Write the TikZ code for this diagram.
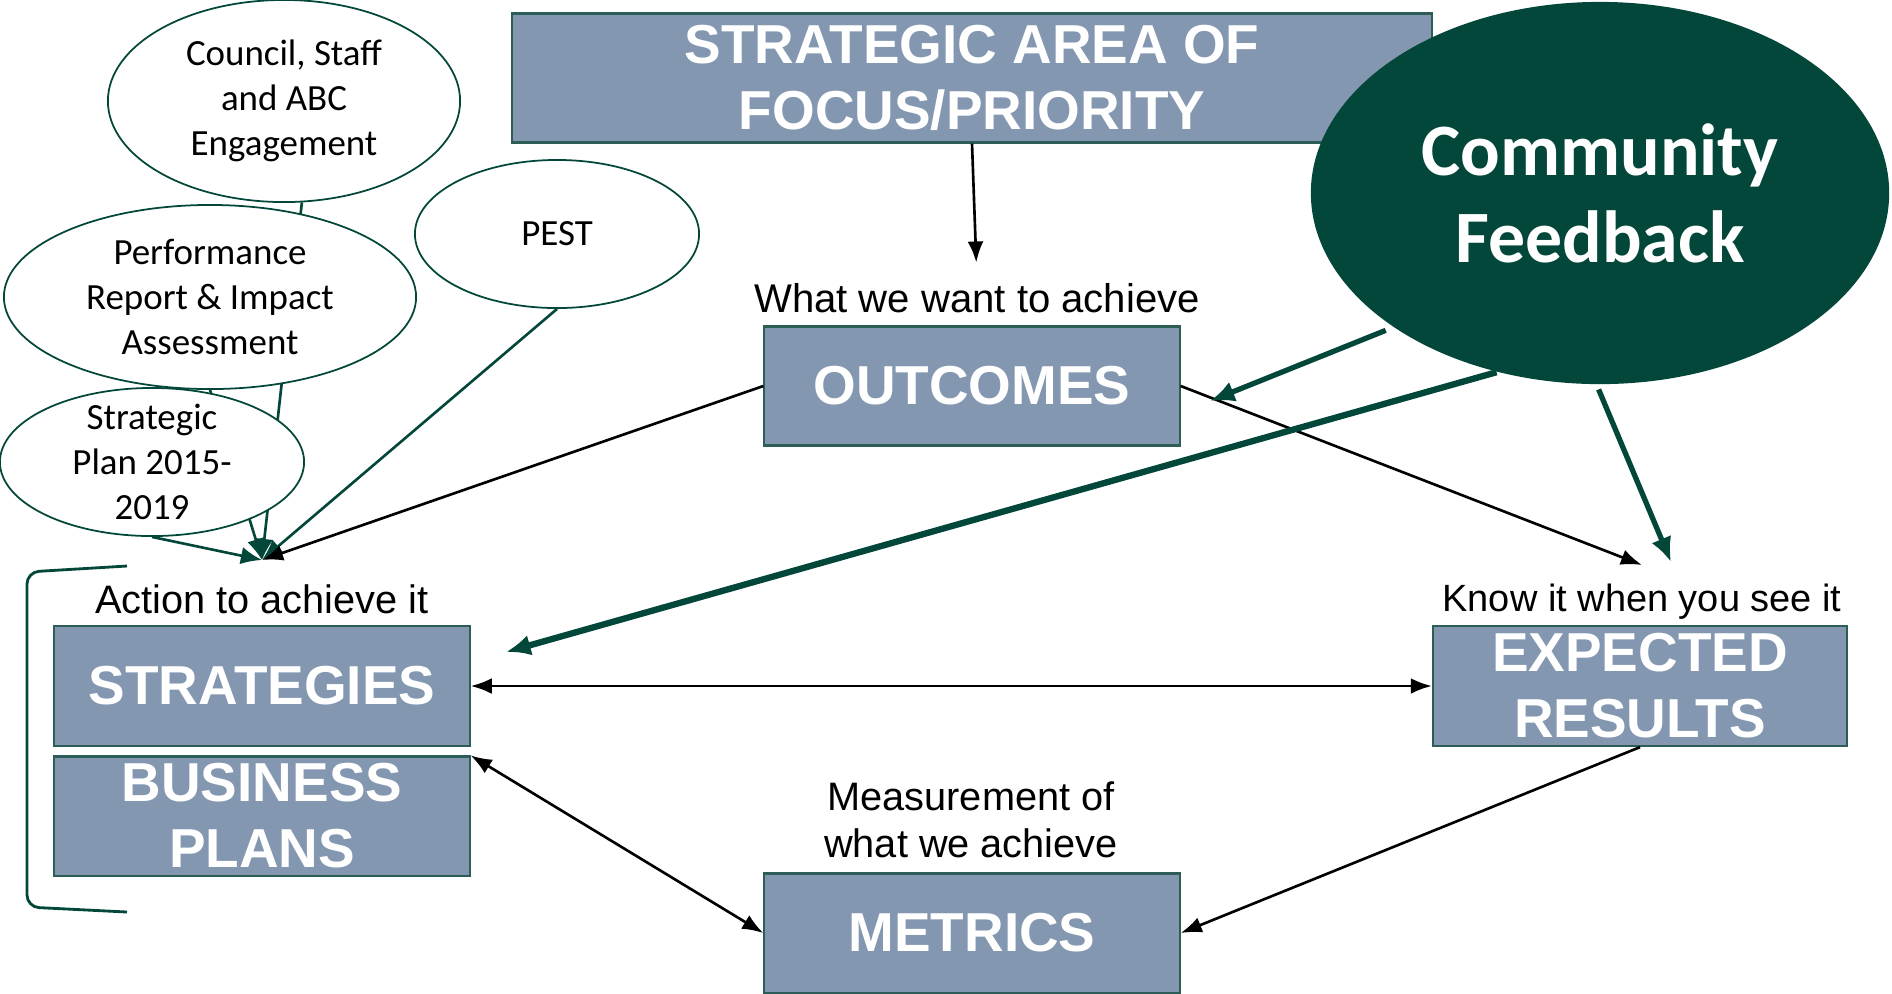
\documentclass[tikz,border=0pt]{standalone}
\usepackage{fontspec}
\setmainfont{Liberation Sans}
\newfontfamily\calibfont{Carlito}
\usetikzlibrary{shapes.geometric,arrows.meta,backgrounds}
\definecolor{boxblue}{HTML}{8497B0}
\definecolor{boxline}{HTML}{2C5E57}
\definecolor{darkgreen}{HTML}{03473A}
\tikzstyle{arrow} = [->,>={Latex[length=6pt,width=4.5pt]},line width=0.75pt]
\tikzstyle{feed} = [->,>={Latex[length=7pt,width=6pt]},line width=1.5pt,draw=darkgreen]
\tikzstyle{input} = [->,>={Latex[length=6pt,width=5pt]},line width=0.75pt,draw=darkgreen]
\tikzstyle{box} = [draw=boxline,line width=0.6pt,fill=boxblue,text=white,inner sep=0,align=center,font={\fontsize{15.6}{18.8}\selectfont\bfseries}]
\tikzstyle{bubble} = [ellipse,draw=darkgreen,line width=0.5pt,fill=white,inner xsep=0,inner ysep=-0.15cm,align=center,font={\calibfont\fontsize{10.5}{12.7}\selectfont}]
\tikzstyle{caption} = [inner sep=0,align=center]

\begin{document}
\begin{tikzpicture}[x=0.01cm,y=-0.01cm]
      \useasboundingbox (0,0) rectangle (1892,993);

      \node[box,minimum width=9.19cm,minimum height=1.29cm] (area) at (972,78) {STRATEGIC AREA OF\\FOCUS/PRIORITY};
      \node[box,minimum width=4.15cm,minimum height=1.19cm] (outcomes) at (972,386) {OUTCOMES};
      \node[box,minimum width=4.15cm,minimum height=1.20cm] (strategies) at (262,686) {STRATEGIES};
      \node[box,minimum width=4.15cm,minimum height=1.19cm] (business) at (262,816) {BUSINESS\\PLANS};
      \node[box,minimum width=4.14cm,minimum height=1.20cm] (results) at (1640,686) {EXPECTED\\RESULTS};
      \node[box,minimum width=4.15cm,minimum height=1.19cm] (metrics) at (972,933) {METRICS};

      \node[caption,font={\fontsize{11.4}{13.6}\selectfont}] (want) at (977,298) {What we want to achieve};
      \node[caption,font={\fontsize{11.3}{13.5}\selectfont}] (action) at (262,599) {Action to achieve it};
      \node[caption,font={\fontsize{10.8}{13}\selectfont}] (know) at (1642,602) {Know it when you see it};
      \node[caption,font={\fontsize{11.3}{13.4}\selectfont}] (measure) at (971,820) {Measurement of\\what we achieve};

      \node[bubble,minimum width=3.52cm,minimum height=2.02cm] (council) at (284,101) {Council, Staff\\and ABC\\Engagement};
      \node[bubble,minimum width=4.12cm,minimum height=1.84cm] (perf) at (210,297) {Performance\\Report \& Impact\\Assessment};
      \node[bubble,minimum width=2.84cm,minimum height=1.48cm] (pest) at (557,234) {PEST};
      \node[bubble,minimum width=3.04cm,minimum height=1.48cm] (plan) at (152,462) {Strategic\\Plan 2015-\\2019};
      \node[ellipse,fill=darkgreen,text=white,inner sep=0,align=center,minimum width=5.78cm,minimum height=3.82cm,font={\calibfont\fontsize{21}{24.8}\selectfont\bfseries}] (community) at (1600,193) {Community\\Feedback};

      \coordinate (hub) at (262,560);
      \coordinate (fbout) at (1210,401);
      \coordinate (fbstrat) at (506,652);
      \coordinate (fbres) at (1671,562);
      \coordinate (outres) at (1642,565);

      \begin{scope}[on background layer]
      \draw[input] (council.-80) -- (hub);
      \draw[input] (perf.south) -- (hub);
      \draw[input] (plan.south) -- (hub);
      \draw[input] (pest.south) -- (hub);
      \end{scope}

      \draw[arrow] (outcomes.west) -- (hub);
      \draw[arrow,shorten >=0.2cm] (area.south) -- (want.north);
      \draw[arrow] (outcomes.east) -- (outres);
      \draw[arrow,<->] (strategies.east) -- (results.west);
      \draw[arrow,<->] (business.north east) -- (metrics.west);
      \draw[arrow] (results.south) -- (metrics.east);

      \draw[feed,shorten <=0.08cm] (community.213) -- (fbout);
      \draw[feed,line width=1.8pt] (community.240) -- (fbstrat);
      \draw[feed,shorten <=0.05cm] (community.269) -- (fbres);

      \draw[darkgreen,line width=0.8pt,rounded corners=0.12cm] (127,566) -- (27,572) -- (27,907) -- (127,912);
\end{tikzpicture}
\end{document}
